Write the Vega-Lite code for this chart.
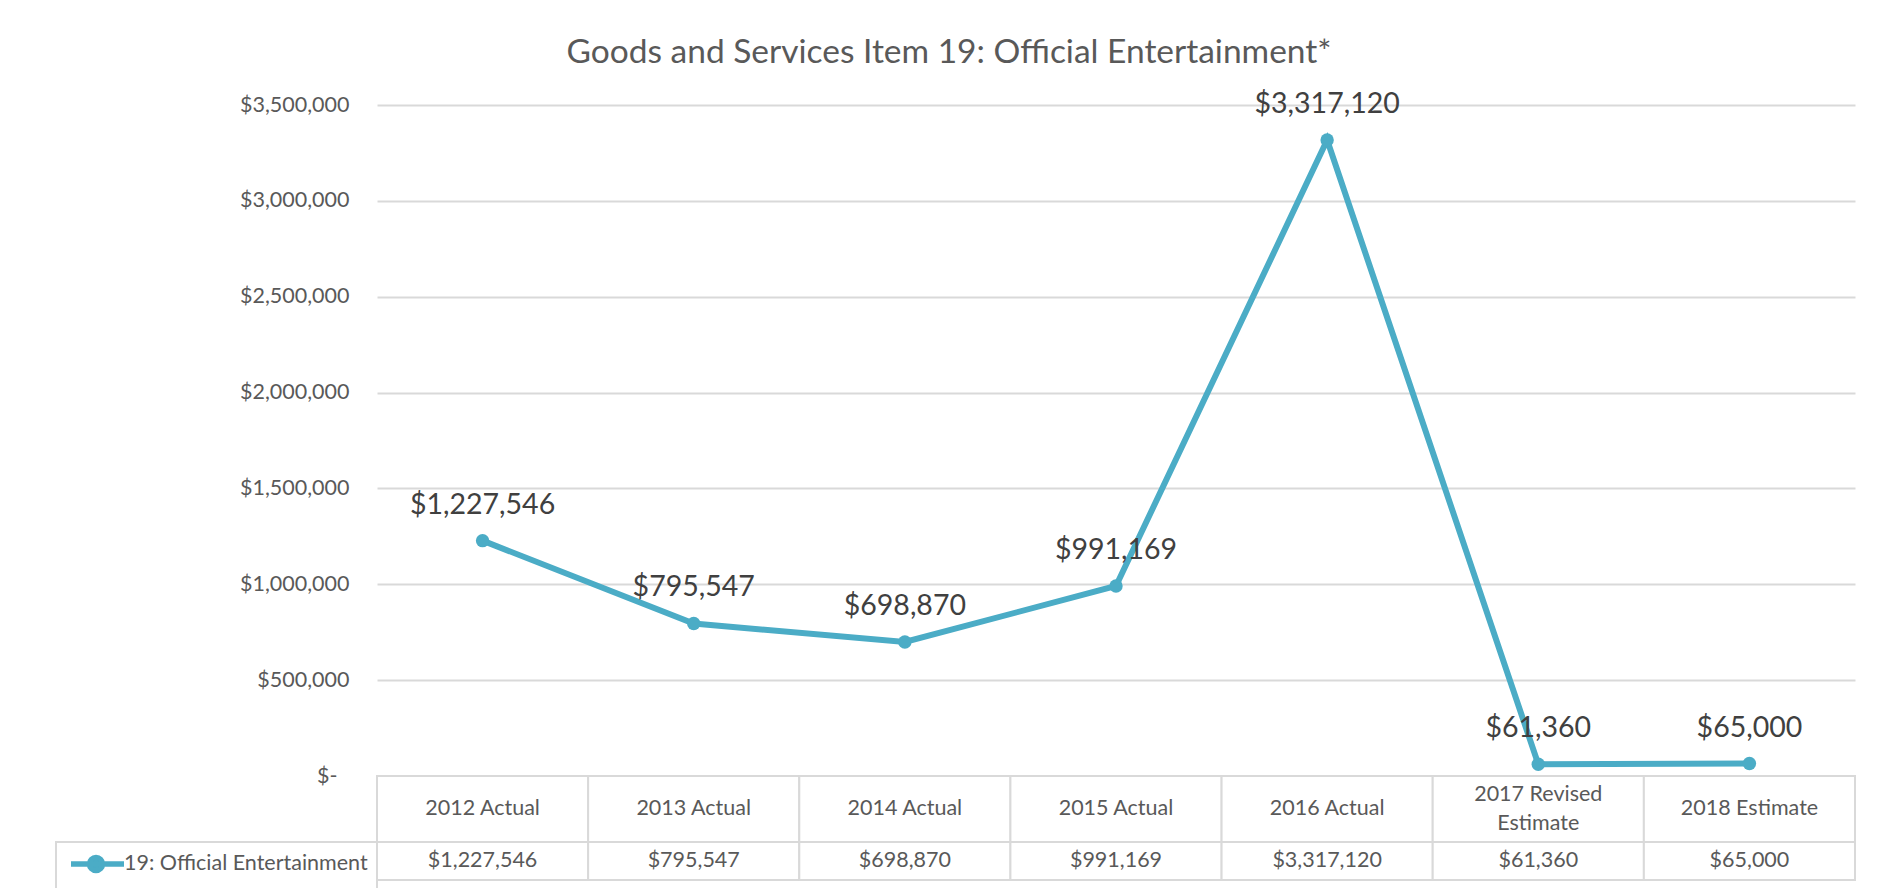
{
  "$schema": "https://vega.github.io/schema/vega-lite/v6.json",
  "background": "white",
  "padding": {"left": 55, "top": 35, "right": 5, "bottom": 5},
  "config": {"font": "Lato", "view": {"stroke": null}},
  "datasets": {
    "rows": [
      {"category": "2012 Actual", "value": 1227546, "series": "19: Official Entertainment"},
      {"category": "2013 Actual", "value": 795547, "series": "19: Official Entertainment"},
      {"category": "2014 Actual", "value": 698870, "series": "19: Official Entertainment"},
      {"category": "2015 Actual", "value": 991169, "series": "19: Official Entertainment"},
      {"category": "2016  Actual", "value": 3317120, "series": "19: Official Entertainment"},
      {"category": "2017 Revised\nEstimate", "value": 61360, "series": "19: Official Entertainment"},
      {"category": "2018 Estimate", "value": 65000, "series": "19: Official Entertainment"}
    ]
  },
  "spacing": 0,
  "bounds": "flush",
  "resolve": {"scale": {"color": "independent"}, "legend": {"color": "independent"}},
  "vconcat": [
    {
      "width": 1478,
      "height": 671,
      "title": {
        "text": "Goods and Services Item 19: Official Entertainment*",
        "fontSize": 33.5,
        "font": "Lato",
        "fontWeight": "normal",
        "color": "#595959",
        "frame": "group",
        "anchor": "middle",
        "dx": -167,
        "offset": 20
      },
      "data": {"name": "rows"},
      "encoding": {
        "x": {"field": "category", "type": "nominal", "sort": null, "axis": null},
        "y": {
          "field": "value",
          "type": "quantitative",
          "scale": {"domain": [0, 3500000], "nice": false},
          "axis": {
            "values": [0, 500000, 1000000, 1500000, 2000000, 2500000, 3000000, 3500000],
            "labelExpr": "datum.value == 0 ? '$-' : '$' + format(datum.value, ',')",
            "title": null,
            "domain": false,
            "ticks": false,
            "tickSize": 0,
            "labelPadding": {"condition": {"test": "datum.value == 0", "value": 40}, "value": 28},
            "labelFontSize": 21.5,
            "labelFont": "Lato",
            "labelColor": "#595959",
            "grid": true,
            "gridColor": "#d9d9d9",
            "gridWidth": 2
          }
        }
      },
      "layer": [
        {"mark": {"type": "line", "color": "#4BACC6", "strokeWidth": 6}},
        {"mark": {"type": "point", "filled": true, "color": "#4BACC6", "size": 180, "opacity": 1}},
        {
          "mark": {"type": "text", "fontSize": 28.5, "color": "#404040", "baseline": "alphabetic", "dy": -27},
          "encoding": {"text": {"field": "value", "type": "quantitative", "format": "$,d"}}
        }
      ]
    },
    {
      "width": 1478,
      "height": 66,
      "data": {"name": "rows"},
      "encoding": {
        "x": {"field": "category", "type": "nominal", "sort": null, "axis": null, "scale": {"paddingInner": 0, "paddingOuter": 0}}
      },
      "layer": [
        {"mark": {"type": "rect", "fill": "white", "stroke": "#d9d9d9", "strokeWidth": 2}},
        {
          "transform": [{"filter": "indexof(datum.category, '\\n') < 0"}],
          "mark": {"type": "text", "fontSize": 21.5, "color": "#595959"},
          "encoding": {"text": {"field": "category", "type": "nominal"}}
        },
        {
          "transform": [{"filter": "indexof(datum.category, '\\n') >= 0"}],
          "mark": {"type": "text", "fontSize": 21.5, "color": "#595959", "lineBreak": "\n", "lineHeight": 29, "dy": -14.5},
          "encoding": {"text": {"field": "category", "type": "nominal"}}
        }
      ]
    },
    {
      "width": 1478,
      "height": 38,
      "data": {"name": "rows"},
      "encoding": {
        "x": {"field": "category", "type": "nominal", "sort": null, "axis": null, "scale": {"paddingInner": 0, "paddingOuter": 0}}
      },
      "layer": [
        {"mark": {"type": "rect", "fill": "white", "stroke": "#d9d9d9", "strokeWidth": 2}},
        {
          "mark": {"type": "text", "fontSize": 21.5, "color": "#595959"},
          "encoding": {"text": {"field": "value", "type": "quantitative", "format": "$,d"}}
        },
        {
          "mark": {"type": "point", "filled": true, "opacity": 0},
          "encoding": {
            "color": {
              "field": "series",
              "type": "nominal",
              "scale": {"range": ["#4BACC6"]},
              "legend": {
                "orient": "left",
                "offset": 0,
                "title": null,
                "padding": 9,
                "strokeColor": "#d9d9d9",
                "symbolType": "M-0.7,0L4.6,0M2.45,0A0.65,0.65,0,1,1,1.15,0A0.65,0.65,0,1,1,2.45,0Z",
                "symbolSize": 400,
                "symbolStrokeWidth": 5.5,
                "symbolOpacity": 1,
                "symbolFillColor": "#4BACC6",
                "symbolStrokeColor": "#4BACC6",
                "labelFontSize": 21.5,
                "labelFont": "Lato",
                "labelColor": "#595959",
                "labelOffset": 33,
                "labelLimit": 400,
                "encode": {"legend": {"update": {"strokeWidth": {"value": 2}}}}
              }
            }
          }
        }
      ]
    }
  ]
}
